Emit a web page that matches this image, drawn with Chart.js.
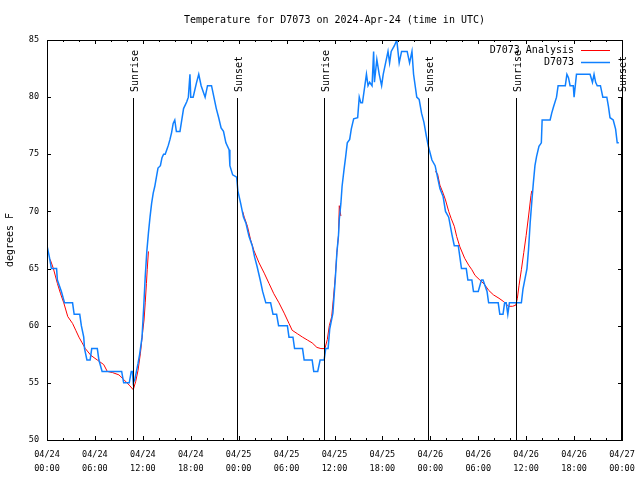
<!DOCTYPE html>
<html>
<head>
<meta charset="utf-8">
<script src="https://cdn.jsdelivr.net/npm/chart.js@4/dist/chart.umd.min.js"></script>
<style>
  html, body { margin: 0; padding: 0; background: #fff; }
  canvas { display: block; }
</style>
</head>
<body>
<canvas id="chart" width="640" height="480"></canvas>
<script>
// hours since 04/24 00:00 UTC
const stationHours = [
  0, 0.3, 0.55, 1.2, 1.3, 1.8, 2.2, 3.2, 3.4, 4.1, 4.3, 4.6, 4.7, 5.0, 5.4, 5.6, 6.3, 6.5, 6.9, 9.35,
  9.6, 10.3, 10.55, 10.7, 10.8, 11.0, 11.2, 11.4, 11.6, 11.9, 12.1, 12.3, 12.5, 12.7, 12.9, 13.1, 13.3, 13.5, 13.7, 13.9,
  14.2, 14.4, 14.6, 14.8, 15.0, 15.2, 15.4, 15.6, 15.8, 16.0, 16.2, 16.65, 17.1, 17.5, 17.7, 17.9, 18.0, 18.3, 18.7, 19.0,
  19.3, 19.8, 20.1, 20.6, 20.9, 21.2, 21.5, 21.8, 22.1, 22.4, 22.8, 22.9, 23.25, 23.75, 23.9, 24.25, 24.6, 24.9, 25.3, 25.7,
  26.0, 26.3, 26.7, 27.0, 27.4, 28.0, 28.3, 28.75, 29.0, 30.1, 30.3, 30.8, 31.0, 32.0, 32.2, 33.2, 33.4, 33.9, 34.2, 34.7,
  34.9, 35.2, 35.4, 35.8, 36.1, 36.3, 36.5, 36.6, 36.8, 36.95, 37.2, 37.4, 37.6, 37.9, 38.1, 38.4, 38.9, 39.1, 39.3, 39.5,
  39.8, 40.0, 40.2, 40.4, 40.7, 40.9, 41.0, 41.3, 41.6, 41.9, 42.1, 42.4, 42.7, 42.9, 43.1, 43.5, 43.8, 44.1, 44.4, 44.8,
  45.1, 45.4, 45.7, 45.9, 46.3, 46.6, 46.9, 47.2, 47.5, 47.75, 48.2, 48.6, 48.9, 49.2, 49.6, 49.9, 50.3, 50.7, 51.0, 51.5,
  51.7, 51.9, 52.5, 52.7, 53.2, 53.4, 54.0, 54.4, 54.6, 55.1, 55.3, 56.5, 56.7, 57.1, 57.3, 57.5, 57.7, 57.9, 59.4, 59.6,
  60.1, 60.3, 60.5, 60.7, 60.9, 61.1, 61.3, 61.6, 61.9, 62.0, 63.0, 63.2, 63.4, 63.8, 64.0, 64.9, 65.1, 65.3, 65.5, 65.9,
  66.0, 66.3, 68.0, 68.3, 68.5, 68.7, 68.9, 69.3, 69.6, 70.1, 70.3, 70.5, 70.9, 71.2, 71.4, 71.6
];
const stationTemps = [
  67, 66, 65, 65, 64, 63, 62, 62, 61, 61, 60, 59, 58, 57, 57, 58, 58, 57, 56, 56,
  55, 55, 56, 56, 55, 55.3, 56, 56.7, 57.5, 59, 61.5, 64.3, 66.5, 68.1, 69.5, 70.7, 71.6, 72.2, 73, 73.8,
  74, 74.7, 75, 75, 75.4, 75.8, 76.3, 76.9, 77.7, 78, 77, 77, 79, 79.6, 80, 82, 80, 80, 81.2, 82,
  81, 80, 81, 81, 80, 79, 78.2, 77.3, 77, 76, 75.4, 74, 73.2, 73, 71.8, 70.7, 69.5, 69, 67.8, 67,
  66, 65.2, 64, 63, 62, 62, 61, 61, 60, 60, 59, 59, 58, 58, 57, 57, 56, 56, 57, 57,
  58, 58, 59.7, 61.1, 64.1, 66.4, 67.9, 69.3, 70.7, 72.2, 73.7, 74.8, 76, 76.3, 77.2, 78.1, 78.2, 80, 79.5, 79.5,
  81, 82, 81, 81.3, 81, 84, 81.3, 83.3, 82, 81, 82, 83, 84, 83, 84, 84.5, 85, 83, 84, 84,
  84, 83, 84, 82, 80, 79.8, 78.6, 77.8, 76.6, 75.7, 74.5, 74, 73, 72, 71.3, 70, 69.5, 68, 67, 67,
  66, 65, 65, 64, 64, 63, 63, 64, 64, 63, 62, 62, 61, 61, 62, 62, 61, 62, 62, 63.2,
  65, 66.7, 69, 70.8, 72.5, 74, 74.8, 75.7, 76, 78, 78, 78.6, 79.1, 80, 81, 81, 82, 81.7, 81, 81,
  80, 82, 82, 81.3, 82, 81.3, 81, 81, 80, 80, 79.2, 78.2, 78, 77.2, 76, 76
];

// analysis line, null = gap
const analysisHours = [
  0.4, 0.8, 1.3, 1.7, 2.1, 2.6, 3.2, 3.6, 4.0, 4.4, 4.8, 5.5, 6.3, 7.1, 7.55, 8.2, 9.0, 9.6, 10.3, 10.8,
  11.1, 11.4, 11.7, 12.0, 12.15, 12.3, 12.45, 12.55, 12.7, 18,
  24.5, 24.7, 25.1, 25.5, 25.9, 26.55, 27.2, 27.8, 28.4, 29.05, 29.7, 30.3, 30.7, 31.35, 32.0, 32.6, 33.2, 33.8, 34.3, 34.8,
  35.1, 35.35, 35.65, 35.85, 36.1, 36.3, 36.5, 36.6, 36.8, 42,
  48.6, 48.9, 49.2, 49.6, 49.9, 50.3, 50.6, 51.0, 51.3, 51.7, 52.3, 52.8, 53.2, 53.6, 54.2, 54.8, 55.3, 55.9, 56.6, 57.2,
  57.8, 58.3, 58.7, 58.9, 59.1, 59.4, 59.7, 60.0, 60.3, 60.6, 60.7
];
const analysisTemps = [
  65.8, 65, 63.7, 62.8, 62, 60.8, 60.2, 59.6, 59, 58.5, 58, 57.4, 57, 56.6, 56, 55.9, 55.7, 55.3, 54.8, 54.4,
  55.1, 56.1, 57.6, 59.6, 60.5, 62, 63.7, 64.9, 66.5, null,
  70, 69.5, 68.7, 67.5, 66.6, 65.5, 64.6, 63.7, 62.8, 62, 61.1, 60.2, 59.6, 59.3, 59, 58.75, 58.5, 58.1, 58, 58,
  58.8, 60, 60.8, 62.3, 64.3, 66.4, 67.9, 70.5, 69.6, null,
  73.5, 73.3, 72.3, 71.6, 71, 70, 69.4, 68.7, 67.8, 66.9, 65.9, 65.3, 64.9, 64.4, 64, 63.6, 63.1, 62.7, 62.4, 62.1,
  61.7, 61.7, 61.8, 62.4, 63.5, 64.9, 66.4, 67.9, 69.6, 71.4, 71.8
];

const sunriseHours = [10.77, 34.69, 58.73];
const sunsetHours = [23.79, 47.71, 71.88];

const xTickDates = ['04/24', '04/24', '04/24', '04/24', '04/25', '04/25', '04/25', '04/25', '04/26', '04/26', '04/26', '04/26', '04/27'];
const xTickTimes = ['00:00', '06:00', '12:00', '18:00', '00:00', '06:00', '12:00', '18:00', '00:00', '06:00', '12:00', '18:00', '00:00'];

const chartTitle = 'Temperature for D7073 on 2024-Apr-24 (time in UTC)';

const MONO = "'DejaVu Sans Mono', 'Liberation Mono', monospace";
const BLUE = 'rgb(16,128,255)';
const RED = 'rgb(255,0,0)';

function toPoints(xs, ys) {
    return xs.map((x, i) => ({ x: x, y: ys[i] }));
}

// gnuplot style frame: box, inward ticks, sunrise/sunset markers, legend inside
const framePlugin = {
    id: 'frame',
    afterDatasetsDraw(chart) {
        const ctx = chart.ctx;
        const a = chart.chartArea;
        const xs = chart.scales.x;
        const ys = chart.scales.y;
        ctx.save();
        ctx.strokeStyle = '#000';
        ctx.lineWidth = 1;

        // title, centred over the plot
        ctx.font = '10px ' + MONO;
        ctx.fillStyle = '#000';
        ctx.textAlign = 'center';
        ctx.textBaseline = 'middle';
        ctx.fillText(chartTitle, (a.left + a.right) / 2, 20);

        // marker lines
        const markers = sunriseHours.map(h => [h, 'Sunrise']).concat(sunsetHours.map(h => [h, 'Sunset']));
        markers.forEach(([h, label]) => {
            const px = Math.round(xs.getPixelForValue(h)) + 0.5;
            ctx.beginPath();
            ctx.moveTo(px, 98);
            ctx.lineTo(px, a.bottom);
            ctx.stroke();
            ctx.save();
            ctx.translate(px + 2, 92);
            ctx.rotate(-Math.PI / 2);
            ctx.textAlign = 'left';
            ctx.textBaseline = 'middle';
            ctx.fillText(label, 0, 0);
            ctx.restore();
        });

        // box
        ctx.strokeRect(Math.round(a.left) + 0.5, Math.round(a.top) + 0.5,
            Math.round(a.right - a.left), Math.round(a.bottom - a.top));

        // x ticks: major every 6 h, minor every 2 h
        ctx.beginPath();
        for (let h = xs.min; h <= xs.max; h += 2) {
            const px = Math.round(xs.getPixelForValue(h)) + 0.5;
            const len = (h % 6 === 0) ? 4 : 2;
            ctx.moveTo(px, a.bottom);
            ctx.lineTo(px, a.bottom - len);
            ctx.moveTo(px, a.top);
            ctx.lineTo(px, a.top + len);
        }
        ys.ticks.forEach(t => {
            const py = Math.round(ys.getPixelForValue(t.value)) + 0.5;
            ctx.moveTo(a.left, py);
            ctx.lineTo(a.left + 4, py);
            ctx.moveTo(a.right, py);
            ctx.lineTo(a.right - 4, py);
        });
        ctx.stroke();

        // legend
        const legend = [['D7073 Analysis', RED], ['D7073', BLUE]];
        ctx.textAlign = 'right';
        ctx.textBaseline = 'middle';
        legend.forEach(([name, color], i) => {
            const y = 50.5 + i * 12;
            ctx.fillStyle = '#000';
            ctx.fillText(name, 574, y);
            ctx.strokeStyle = color;
            ctx.lineWidth = i === 0 ? 1 : 1.5;
            ctx.beginPath();
            ctx.moveTo(581, y);
            ctx.lineTo(610, y);
            ctx.stroke();
        });
        ctx.restore();
    }
};

const ctx = document.getElementById('chart').getContext('2d');

new Chart(ctx, {
    type: 'line',
    data: {
        datasets: [{
            label: 'D7073',
            data: toPoints(stationHours, stationTemps),
            borderColor: BLUE,
            borderWidth: 1.5,
            pointRadius: 0,
            tension: 0,
            fill: false
        }, {
            label: 'D7073 Analysis',
            data: toPoints(analysisHours, analysisTemps),
            borderColor: RED,
            borderWidth: 1,
            pointRadius: 0,
            tension: 0,
            spanGaps: false,
            fill: false
        }]
    },
    options: {
        responsive: false,
        animation: false,
        layout: {
            padding: { left: 0, right: 18, top: 40, bottom: 0 }
        },
        scales: {
            x: {
                type: 'linear',
                min: 0,
                max: 72,
                afterFit: (scale) => {
                    scale.height = 40;
                    scale.paddingLeft = 0;
                    scale.paddingRight = 0;
                },
                grid: { display: false, drawTicks: false },
                border: { display: false },
                ticks: {
                    stepSize: 6,
                    autoSkip: false,
                    maxRotation: 0,
                    padding: 8,
                    color: '#000',
                    font: { family: MONO, size: 8.5, lineHeight: '14px' },
                    callback: (value) => {
                        const i = Math.round(value / 6);
                        return [xTickDates[i], xTickTimes[i]];
                    }
                }
            },
            y: {
                min: 50,
                max: 85,
                afterFit: (scale) => { scale.width = 47; },
                grid: { display: false, drawTicks: false },
                border: { display: false },
                title: {
                    display: true,
                    text: 'degrees F',
                    color: '#000',
                    font: { family: MONO, size: 10 },
                    padding: { top: 4, bottom: 0 }
                },
                ticks: {
                    stepSize: 5,
                    padding: 8,
                    color: '#000',
                    font: { family: MONO, size: 8.5 }
                }
            }
        },
        plugins: {
            legend: { display: false },
            tooltip: { enabled: false },
            title: { display: false }
        }
    },
    plugins: [framePlugin]
});
</script>
</body>
</html>
